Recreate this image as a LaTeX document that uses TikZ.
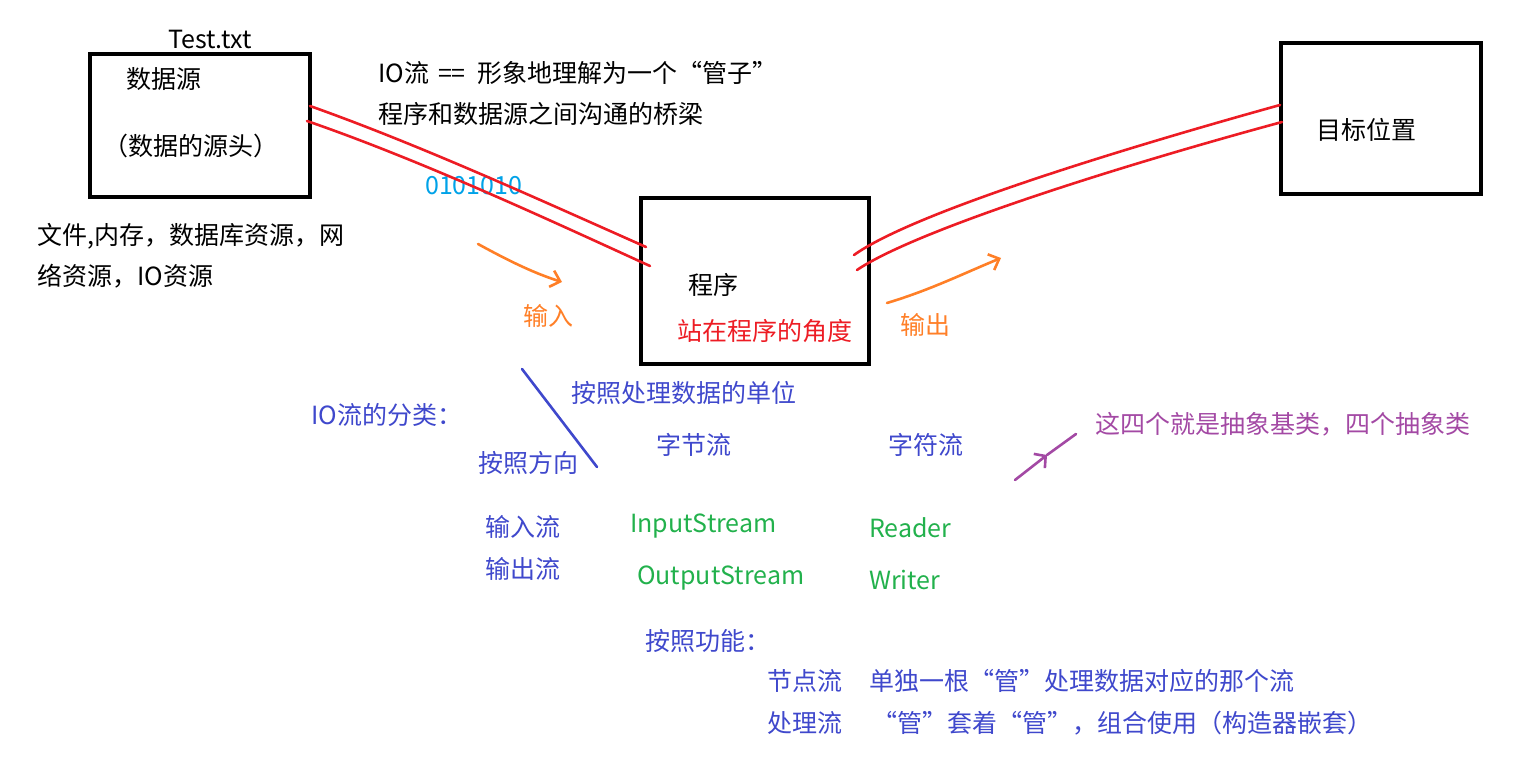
\documentclass[tikz,border=0pt]{standalone}
\usepackage{fontspec}
\setmainfont{Noto Sans CJK SC}
\usetikzlibrary{arrows.meta}
\definecolor{indigo}{HTML}{3F48CC}
\definecolor{pgreen}{HTML}{22B14C}
\definecolor{pred}{HTML}{ED1C24}
\definecolor{porange}{HTML}{FF7F27}
\definecolor{ppurple}{HTML}{A349A4}
\definecolor{pcyan}{HTML}{00A2E8}
\begin{document}
\begin{tikzpicture}[x=1pt,y=-1pt,
	every node/.style={inner sep=0pt,font=\fontsize{25}{29}\selectfont},
	txt/.style={anchor=west},
	box/.style={draw,line width=3.5pt},
	pipe/.style={pred,line width=2.6pt,line cap=round},
	hand/.style={line width=2.6pt,line cap=round,line join=round}]
	\useasboundingbox (0,0) rectangle (1532,762);
	% boxes
	\node[box,minimum width=220pt,minimum height=143pt] (src) at (200,125.5) {};
	\node[box,minimum width=228pt,minimum height=166pt] (prog) at (755,281) {};
	\node[box,minimum width=200pt,minimum height=151pt] (dest) at (1381,118.5) {};
	% black texts
	\foreach \x/\y/\nm/\texn in {168/40/test/Test.txt,
	126/79/dsrc/数据源,103/146/dhead/（数据的源头）,
	37/236/res1/{文件,内存，数据库资源，网},37/276/res2/络资源，IO资源,
	378/73/pipe1/IO流\hspace{9pt}==\hspace{12pt}形象地理解为一个“管子”,378/114/pipe2/程序和数据源之间沟通的桥梁,
	688/285/cx/程序,1316/130/target/目标位置}
	\path (\x,\y) node[txt](\nm){\texn};
	\path (425,186) node[txt,pcyan](bits){0101010};
	\path (677,331) node[txt,pred](view){站在程序的角度};
	\path (523,316) node[txt,porange](in){输入};
	\path (900,325) node[txt,porange](out){输出};
	% classification
	\foreach \x/\y/\nm/\texn in {571/393/unit/按照处理数据的单位,
	311/415/kind/IO流的分类：,656/445/byte/字节流,888/445/char/字符流,
	478/463/dir/按照方向,485/527/istr/输入流,485/569/ostr/输出流,
	645/641/func/按照功能：,767/681/node/节点流,869/681/nodetx/单独一根“管”处理数据对应的那个流,
	767/723/proc/处理流,872/723/proctx/“管”套着“管”，组合使用（构造器嵌套）}
	\path (\x,\y) node[txt,indigo](\nm){\texn};
	\foreach \x/\y/\nm/\texn in {630/526/is/InputStream,869/528/rd/Reader,
	637/578/os/OutputStream,869/580/wr/Writer}
	\path (\x,\y) node[txt,pgreen](\nm){\texn};
	\path (1095,424) node[txt,ppurple](abs){这四个就是抽象基类，四个抽象类};
	% pipes
	\draw[pipe] (310,106) .. controls (420,145) and (540,200) .. (646,247);
	\draw[pipe] (307,121) .. controls (420,160) and (545,218) .. (650,266);
	\draw[pipe] (854,255) .. controls (910,215) and (1100,155) .. (1280,105);
	\draw[pipe] (857,270) .. controls (913,232) and (1105,170) .. (1282,122);
	% hand arrows
	\coordinate (a1) at (478,244);
	\coordinate (a2) at (562,282);
	\coordinate (b1) at (887,303);
	\coordinate (b2) at (1001,258);
	\coordinate (c1) at (1015,480);
	\coordinate (c2) at (1047,455);
	\coordinate (c3) at (1076,434);
	\draw[hand,porange,-{Straight Barb[length=9pt,width=17pt]}] (a1) .. controls (500,256) and (530,272) .. (a2);
	\draw[hand,porange,-{Straight Barb[length=9pt,width=17pt]}] (b1) .. controls (930,290) and (960,275) .. (b2);
	\draw[hand,ppurple,-{Straight Barb[length=8pt,width=18pt]}] (c1) -- (c2);
	\draw[hand,ppurple] (c2) -- (c3);
	\draw[hand,indigo] (522,369) -- (597,467);
\end{tikzpicture}
\end{document}
